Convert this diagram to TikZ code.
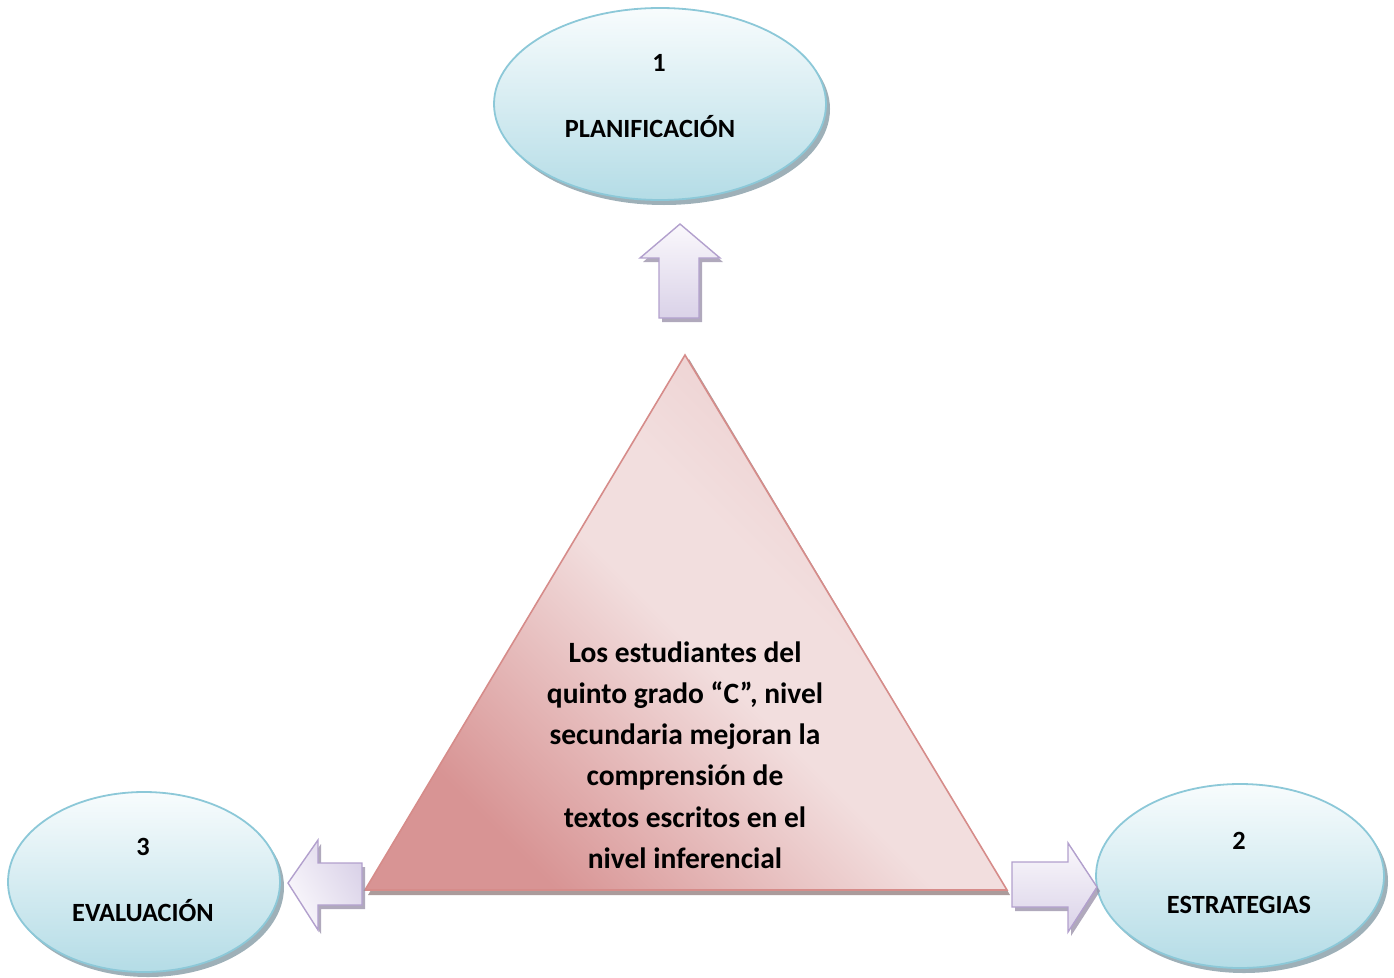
\documentclass[tikz,border=0pt]{standalone}
\usepackage{fontspec}
\setmainfont{Carlito}
\usetikzlibrary{shapes.geometric}
\definecolor{ellline}{RGB}{140,200,216}
\definecolor{elltop}{RGB}{248,252,253}
\definecolor{ellbot}{RGB}{180,220,230}
\definecolor{ellshad}{RGB}{125,150,160}
\definecolor{triline}{RGB}{214,140,138}
\definecolor{tridark}{RGB}{216,148,148}
\definecolor{trilight}{RGB}{242,222,222}
\definecolor{tritop}{RGB}{236,206,206}
\definecolor{trishad}{RGB}{150,130,130}
\definecolor{arrline}{RGB}{178,160,205}
\definecolor{arrlight}{RGB}{250,248,252}
\definecolor{arrdark}{RGB}{218,210,232}
\definecolor{arrshad}{RGB}{150,140,165}
\pgfdeclareverticalshading{trishade}{100bp}{color(0bp)=(tridark); color(26bp)=(tridark); color(49bp)=(trilight); color(58bp)=(trilight); color(72bp)=(tritop); color(100bp)=(tritop)}
\tikzset{
  bubble/.style={ellipse, draw=ellline, line width=1.8pt, top color=elltop, bottom color=ellbot, inner sep=0pt},
  bubshad/.style={ellipse, fill=ellshad, opacity=0.75, inner sep=0pt},
  lbl/.style={font=\fontsize{26.3}{30}\selectfont\bfseries, text=black, inner sep=0pt},
  arrbox/.style={draw=arrline, line width=1.4pt, line join=miter},
  arrshadow/.style={fill=arrshad, opacity=0.75},
}
\begin{document}
\begin{tikzpicture}[x=1pt,y=-1pt]
\useasboundingbox (0,0) rectangle (1394,977);
% ---- triangle
\fill[trishad,opacity=0.8] (689,359) -- (1010,895) -- (368,895) -- cycle;
\shade[draw=triline, line width=1.6pt, shading=trishade, shading angle=-45]
  (685,355) coordinate (apex) -- (1007,890) coordinate (br) -- (365,890) coordinate (bl) -- cycle;
\node[font=\fontsize{29.5}{41.2}\selectfont\bfseries, align=center, inner sep=0pt] (goal) at (685,755)
 {Los estudiantes del\\quinto grado “C”, nivel\\secundaria mejoran la\\comprensión de\\textos escritos en el\\nivel inferencial};
% ---- ellipses shadows
\node[bubshad, minimum width=332pt, minimum height=192pt] at (664,109) {};
\node[bubshad, minimum width=272pt, minimum height=180pt] at (148,887) {};
\node[bubshad, minimum width=288pt, minimum height=184pt] at (1244,881) {};
% ---- ellipses
\node[bubble, minimum width=332pt, minimum height=192pt] (plan) at (660,104) {};
\node[bubble, minimum width=272pt, minimum height=180pt] (eval) at (144,882) {};
\node[bubble, minimum width=288pt, minimum height=184pt] (estr) at (1240,876) {};
\node[lbl] (n1) at (659,63) {1};
\node[lbl] (t1) at (650,127) {PLANIFICACIÓN};
\node[lbl] (n3) at (143,847) {3};
\node[lbl] (t3) at (143,911) {EVALUACIÓN};
\node[lbl] (n2) at (1239,841) {2};
\node[lbl] (t2) at (1239,905) {ESTRATEGIAS};
% ---- up arrow
\fill[arrshadow] (683,228) -- (723,262) -- (702,262) -- (702,322) -- (662,322) -- (662,262) -- (643,262) -- cycle;
\shade[arrbox, top color=arrlight, bottom color=arrdark]
 (680,224) -- (720,258) -- (699,258) -- (699,318) -- (659,318) -- (659,258) -- (640,258) -- cycle;
% ---- left arrow
\fill[arrshadow] (291,887) -- (321,844) -- (321,867) -- (365,867) -- (365,909) -- (321,909) -- (321,934) -- cycle;
\shade[arrbox, left color=arrdark, right color=arrlight, shading angle=-60]
 (288,883) -- (318,840) -- (318,863) -- (362,863) -- (362,905) -- (318,905) -- (318,930) -- cycle;
% ---- right arrow
\fill[arrshadow] (1100,891) -- (1071,936) -- (1071,911) -- (1015,911) -- (1015,866) -- (1071,866) -- (1071,847) -- cycle;
\shade[arrbox, top color=arrlight, bottom color=arrdark]
 (1097,887) -- (1068,932) -- (1068,907) -- (1012,907) -- (1012,862) -- (1068,862) -- (1068,843) -- cycle;
\end{tikzpicture}
\end{document}
